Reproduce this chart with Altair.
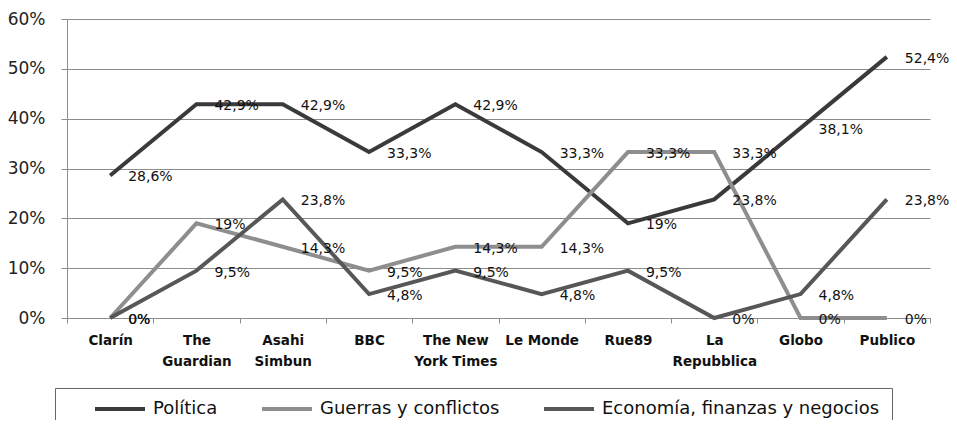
import json
import altair as alt
import pandas as pd

categories = ["Clarín", "The Guardian", "Asahi Simbun", "BBC", "The New York Times",
              "Le Monde", "Rue89", "La Repubblica", "Globo", "Publico"]
axis_labels = [["Clarín"], ["The", "Guardian"], ["Asahi", "Simbun"], ["BBC"],
               ["The New", "York Times"], ["Le Monde"], ["Rue89"], ["La", "Repubblica"],
               ["Globo"], ["Publico"]]
series = ["Política", "Guerras y conflictos", "Economía, finanzas y negocios"]
politica = [28.6, 42.9, 42.9, 33.3, 42.9, 33.3, 19, 23.8, 38.1, 52.4]
guerras = [0, 19, 14.3, 9.5, 14.3, 14.3, 33.3, 33.3, 0, 0]
economia = [0, 9.5, 23.8, 4.8, 9.5, 4.8, 9.5, 0, 4.8, 23.8]
y_ticks = [0, 0.1, 0.2, 0.3, 0.4, 0.5, 0.6]
colors = ["#3a3a3a", "#8e8e8e", "#575757"]

rows = []
for s_idx, (name, vals) in enumerate(zip(series, [politica, guerras, economia])):
    for i, (cat, v) in enumerate(zip(categories, vals)):
        rows.append({
            "Medio": cat, "Serie": name, "orden": i, "s": s_idx,
            "Valor": v / 100.0,
            "Etiqueta": f"{v:g}".replace(".", ",") + "%",
        })
df = pd.DataFrame(rows)

label_expr = ""
for cat, lines in zip(categories, axis_labels):
    label_expr += f"datum.value === {json.dumps(cat, ensure_ascii=False)} ? {json.dumps(lines, ensure_ascii=False)} : "
label_expr += "datum.value"

FONT = "DejaVu Sans"

x_enc = alt.X("Medio:N", sort=categories,
              scale=alt.Scale(paddingInner=0, paddingOuter=0),
              axis=alt.Axis(title=None, labelAngle=0, tickBand="extent", labelExpr=label_expr,
                            labelFont=FONT, labelFontSize=13.5, labelFontWeight="bold",
                            labelColor="#111", labelPadding=10, labelLineHeight=21,
                            labelBaseline="top", tickSize=5, tickColor="#8c8c8c",
                            domainColor="#8c8c8c", grid=False))
y_enc = alt.Y("Valor:Q", scale=alt.Scale(domain=[0, 0.6], nice=False),
              axis=alt.Axis(title=None, values=y_ticks, format=".0%", labelFont=FONT,
                            labelFontSize=17, labelColor="#222", labelPadding=16,
                            tickSize=6, tickColor="#8c8c8c", domainColor="#8c8c8c",
                            gridColor="#8c8c8c", gridWidth=1))

color_enc = alt.Color("Serie:N", sort=series,
                      scale=alt.Scale(domain=series, range=colors),
                      legend=alt.Legend(orient="none", legendX=-12, legendY=369,
                                        direction="horizontal", title=" ",
                                        titleOrient="left", titlePadding=26,
                                        padding=12, strokeColor="#666",
                                        symbolType="M-5,0H5", symbolStrokeWidth=4,
                                        symbolSize=100, symbolOffset=18,
                                        labelOffset=24, labelFont=FONT,
                                        labelFontSize=18, labelColor="#111",
                                        labelLimit=400, columnPadding=36))

lines = alt.Chart(df).mark_line(strokeWidth=4, strokeJoin="miter").encode(
    x=x_enc, y=y_enc, color=color_enc, order="orden:Q", detail="s:N")

labels = alt.Chart(df).mark_text(align="left", baseline="middle", dx=18, dy=2,
                                 font=FONT, fontSize=14, color="#111").encode(
    x=alt.X("Medio:N", sort=categories), y="Valor:Q", text="Etiqueta:N")

chart = alt.layer(lines, labels).properties(
    width=863, height=299,
    autosize=alt.AutoSizeParams(type="none"),
    padding={"left": 59, "top": 11, "right": 19, "bottom": 102},
).configure_view(stroke=None)

chart.save("out.html", embed_options={"renderer": "svg", "actions": False})
